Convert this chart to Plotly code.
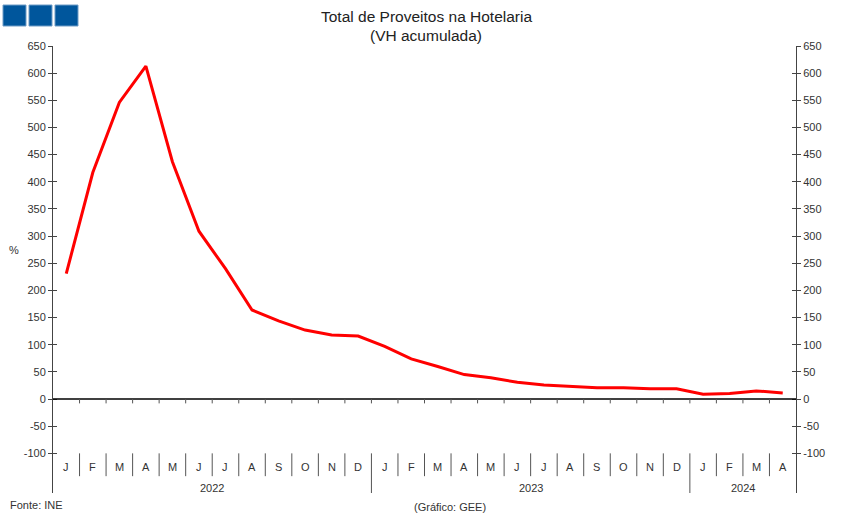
import plotly.graph_objects as go

months = ["J", "F", "M", "A", "M", "J", "J", "A", "S", "O", "N", "D",
          "J", "F", "M", "A", "M", "J", "J", "A", "S", "O", "N", "D",
          "J", "F", "M", "A"]
years = ["2022", "2023", "2024"]
year_counts = [12, 12, 4]
values = [231, 417, 546, 613, 437, 309, 240, 164, 144, 127, 118, 116,
          97, 74, 60, 45, 39, 31, 26, 23, 21, 21, 19, 19,
          9, 10, 15, 11]
yticks = list(range(-100, 651, 50))
yticktext = [str(v) for v in yticks]  # hyphen-minus as in the original

W, H = 851, 520
L, R, T, B = 53, 55, 46, 27
PW, PH = W - L - R, H - T - B
YMIN, YMAX = -173, 650

def px_x(px):
    return (px - L) / PW

def px_y(py):
    return (H - B - py) / PH

n = len(months)
xs = list(range(n))

fig = go.Figure()
fig.add_trace(go.Scatter(x=xs, y=values, mode="lines",
                         line=dict(color="#FF0000", width=3),
                         hoverinfo="skip", showlegend=False))
for ax in ["y2", "y3", "y4"]:
    fig.add_trace(go.Scatter(x=[0], y=[0], yaxis=ax, mode="markers",
                             marker=dict(opacity=0), showlegend=False, hoverinfo="skip"))

font = dict(family="Liberation Sans, Arial, sans-serif", size=11, color="#333333")
axcol = "#444444"
common = dict(range=[YMIN, YMAX], tickvals=yticks, ticktext=yticktext,
              showgrid=False, zeroline=False,
              showline=True, linecolor=axcol, linewidth=1, tickcolor=axcol,
              ticklen=4, tickwidth=1, fixedrange=True)

fig.update_layout(
    width=W, height=H,
    margin=dict(l=L, r=R, t=T, b=B),
    paper_bgcolor="white", plot_bgcolor="white",
    font=font,
    xaxis=dict(range=[-0.5, n - 0.5], visible=False, fixedrange=True),
    yaxis=dict(**common, ticks="outside", side="left", tickfont=font),
    yaxis2=dict(**common, ticks="inside", side="left", overlaying="y", showticklabels=False),
    yaxis3=dict(**common, ticks="outside", side="right", overlaying="y", tickfont=font),
    yaxis4=dict(**common, ticks="inside", side="right", overlaying="y", showticklabels=False),
)

shapes = []
shapes.append(dict(type="line", xref="x", yref="y", x0=-0.5, x1=n - 0.5, y0=0, y1=0,
                   line=dict(color="#000000", width=1.5)))
for i in range(n - 1):
    shapes.append(dict(type="line", xref="x", yref="y", x0=i + 0.5, x1=i + 0.5,
                       y0=0, y1=-8, line=dict(color="#555555", width=1)))
year_bounds = []
acc = 0
for c in year_counts[:-1]:
    acc += c
    year_bounds.append(acc)
for i in range(1, n):
    y1 = YMIN if i in year_bounds else -142
    shapes.append(dict(type="line", xref="x", yref="y", x0=i - 0.5, x1=i - 0.5,
                       y0=-100, y1=y1, line=dict(color="#555555", width=1)))

for k in range(3):
    x0 = 3 + k * 26
    shapes.append(dict(type="rect", xref="paper", yref="paper",
                       x0=px_x(x0), x1=px_x(x0 + 23), y0=px_y(26), y1=px_y(5),
                       fillcolor="#00569C", line=dict(color="#6F9CC6", width=1)))
fig.update_layout(shapes=shapes)

ann = []
for i, m in enumerate(months):
    ann.append(dict(x=i, y=-125, xref="x", yref="y", text=m, showarrow=False,
                    font=font, xanchor="center", yanchor="middle"))
start = 0
for yr, c in zip(years, year_counts):
    ann.append(dict(x=start + (c - 1) / 2, y=-164, xref="x", yref="y", text=yr,
                    showarrow=False, font=font, xanchor="center", yanchor="middle"))
    start += c

tfont = dict(family="Liberation Sans, Arial, sans-serif", size=15.5, color="#222222")
ann.append(dict(x=px_x(426), y=px_y(17), xref="paper", yref="paper",
                text="Total de Proveitos na Hotelaria", showarrow=False,
                font=tfont, xanchor="center", yanchor="middle"))
ann.append(dict(x=px_x(426), y=px_y(35), xref="paper", yref="paper",
                text="(VH acumulada)", showarrow=False,
                font=tfont, xanchor="center", yanchor="middle"))
ann.append(dict(x=px_x(14), y=px_y(250), xref="paper", yref="paper", text="%",
                showarrow=False, font=dict(family=font["family"], size=11, color="#333333"),
                xanchor="center", yanchor="middle"))
ann.append(dict(x=px_x(8), y=px_y(505), xref="paper", yref="paper", text="Fonte: INE",
                showarrow=False, font=font, xanchor="left", yanchor="middle"))
ann.append(dict(x=px_x(450), y=px_y(507), xref="paper", yref="paper", text="(Gráfico: GEE)",
                showarrow=False, font=font, xanchor="center", yanchor="middle"))
fig.update_layout(annotations=ann)

fig.write_html("out.html")
